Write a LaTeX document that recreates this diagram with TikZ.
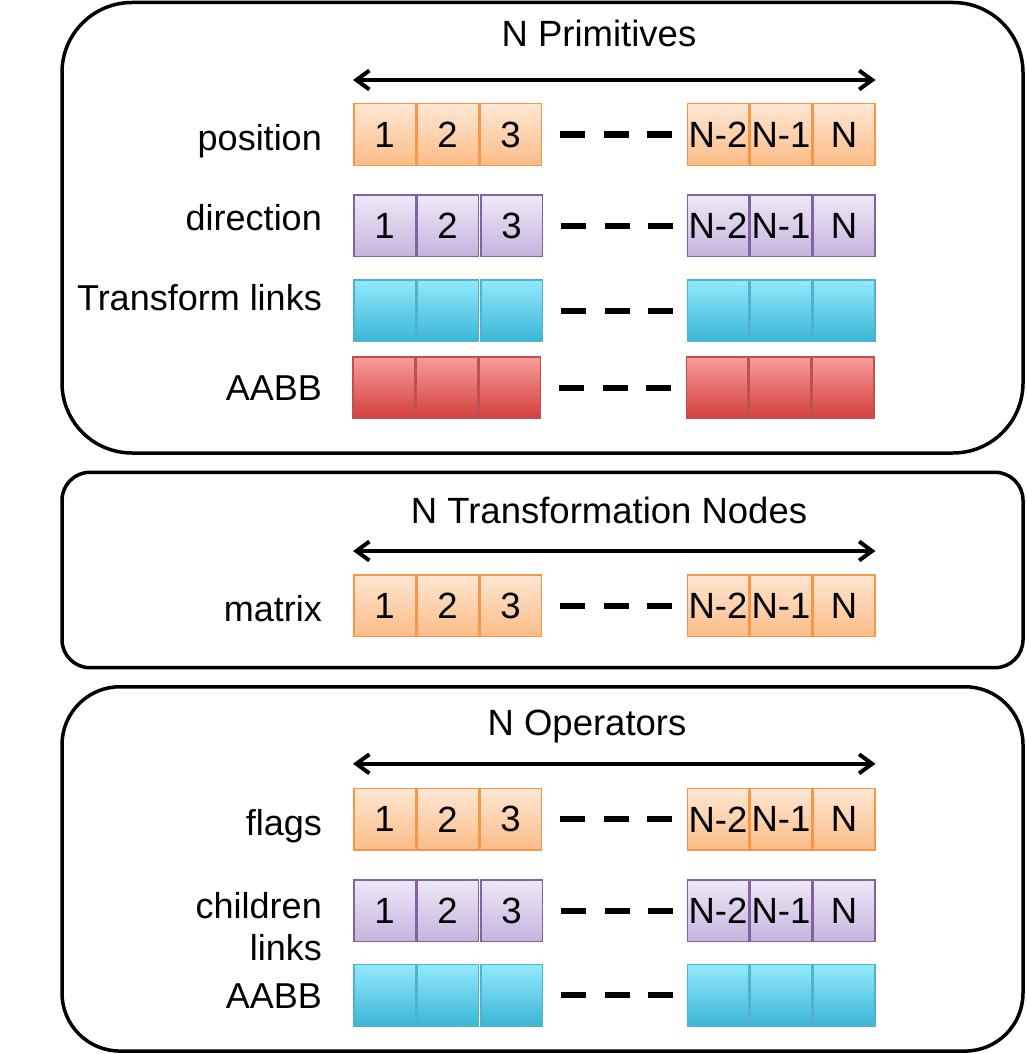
\documentclass[tikz,border=0pt]{standalone}
\usepackage{fontspec}
\setmainfont{Liberation Sans}
\usepackage{tikz}
\usetikzlibrary{arrows.meta}
\usetikzlibrary{positioning,fit,calc}

\definecolor{orangeLine}{HTML}{F79646}
\definecolor{orangeTop}{HTML}{FEE7D4}
\definecolor{orangeBottom}{HTML}{FBBC87}
\definecolor{purpleLine}{HTML}{8064A2}
\definecolor{purpleTop}{HTML}{EEE9F6}
\definecolor{purpleBottom}{HTML}{C7B3DF}
\definecolor{cyanLine}{HTML}{4FB3CF}
\definecolor{cyanTop}{HTML}{93E9FB}
\definecolor{cyanBottom}{HTML}{3AB6D6}
\definecolor{redLine}{HTML}{C0504D}
\definecolor{redTop}{HTML}{F89C9A}
\definecolor{redBottom}{HTML}{D2403E}

\begin{document}
\begin{tikzpicture}[
  x=1pt, y=-1pt,
  node distance=63pt,
  title/.style={font=\fontsize{36.5}{42}\selectfont, anchor=base, inner sep=0pt},
  rowtag/.style={font=\fontsize{36}{41.7}\selectfont, anchor=base east, align=right, inner sep=0pt},
  span/.style={{Straight Barb[length=13pt,width=19pt]}-{Straight Barb[length=13pt,width=19pt]}, line width=4pt},
  gap/.style={line width=6pt, dash pattern=on 25pt off 18.5pt, shorten <=18pt, shorten >=14pt}
]
	\useasboundingbox (0,0) rectangle (1026,1054);
	\tikzstyle{cell} = [rectangle, minimum width=61.5pt, minimum height=61.5pt, inner sep=0pt, line width=1.5pt, text centered, font=\fontsize{36.5}{42}\selectfont]
	\tikzstyle{orangeCell} = [cell, draw=orangeLine, top color=orangeTop, bottom color=orangeBottom]
	\tikzstyle{purpleCell} = [cell, draw=purpleLine, top color=purpleTop, bottom color=purpleBottom]
	\tikzstyle{cyanCell} = [cell, draw=cyanLine, top color=cyanTop, bottom color=cyanBottom]
	\tikzstyle{redCell} = [cell, draw=redLine, top color=redTop, bottom color=redBottom]
	\tikzstyle{groupBox} = [rectangle, line width=3.5pt, draw=black, inner sep=0pt, minimum width=961pt]

	% N primitives
	\node (primBox) [groupBox, rounded corners=70pt, minimum height=450.5pt] at (542.5,227.75) {};
	\node (primTitle) [title] at (599,46.7) {N Primitives};

	\node (pos1) [orangeCell] at (384.5,134.5) {1};
	\node (pos2) [orangeCell, right of=pos1] {2};
	\node (pos3) [orangeCell, right of=pos2] {3};
	\node (posN2) [orangeCell] at (718,134.5) {N-2};
	\node (posN1) [orangeCell, right of=posN2] {N-1};
	\node (posN) [orangeCell, right of=posN1] {N};
	\node (posTag) [rowtag] at (322,150) {position};

	\node (dir1) [purpleCell] at (384.5,225.5) {1};
	\node (dir2) [purpleCell, right of=dir1] {2};
	\node (dir3) [purpleCell, right of=dir2, xshift=1pt] {3};
	\node (dirN2) [purpleCell] at (718,225.5) {N-2};
	\node (dirN1) [purpleCell, right of=dirN2] {N-1};
	\node (dirN) [purpleCell, right of=dirN1] {N};
	\node (dirTag) [rowtag] at (322,230) {direction};

	\node (link1) [cyanCell] at (384.5,310.5) {};
	\node (link2) [cyanCell, right of=link1] {};
	\node (link3) [cyanCell, right of=link2, xshift=1pt] {};
	\node (linkN2) [cyanCell] at (718,310.5) {};
	\node (linkN1) [cyanCell, right of=linkN2] {};
	\node (linkN) [cyanCell, right of=linkN1] {};
	\node (linkTag) [rowtag] at (322,310) {Transform links};

	\node (bbox1) [redCell] at (383.5,387.5) {};
	\node (bbox2) [redCell, right of=bbox1] {};
	\node (bbox3) [redCell, right of=bbox2] {};
	\node (bboxN2) [redCell] at (717,387.5) {};
	\node (bboxN1) [redCell, right of=bboxN2] {};
	\node (bboxN) [redCell, right of=bboxN1] {};
	\node (bboxTag) [rowtag] at (322,400) {AABB};

	\draw[span] ([yshift=23pt]pos1.north west) -- ([yshift=23pt]posN.north east);
	\draw[gap] (pos3) -- (posN2);
	\draw[gap] (dir3) -- (dirN2);
	\draw[gap] (link3) -- (linkN2);
	\draw[gap] (bbox3) -- (bboxN2);

	% N transformation nodes
	\node (transBox) [groupBox, rounded corners=28pt, minimum height=195.4pt] at (542.5,570) {};
	\node (transTitle) [title] at (609,523) {N Transformation Nodes};

	\node (mat1) [orangeCell] at (384.5,605.5) {1};
	\node (mat2) [orangeCell, right of=mat1] {2};
	\node (mat3) [orangeCell, right of=mat2] {3};
	\node (matN2) [orangeCell] at (718,605.5) {N-2};
	\node (matN1) [orangeCell, right of=matN2] {N-1};
	\node (matN) [orangeCell, right of=matN1] {N};
	\node (matTag) [rowtag] at (322,621.7) {matrix};

	\draw[span] ([yshift=23pt]mat1.north west) -- ([yshift=23pt]matN.north east);
	\draw[gap] (mat3) -- (matN2);

	% N operators
	\node (opBox) [groupBox, rounded corners=58pt, minimum height=364.3pt] at (542.5,868.9) {};
	\node (opTitle) [title] at (587,735) {N Operators};

	\node (flag1) [orangeCell] at (384.5,819.3) {1};
	\node (flag2) [orangeCell, right of=flag1] {2};
	\node (flag3) [orangeCell, right of=flag2] {3};
	\node (flagN2) [orangeCell] at (718,819.3) {N-2};
	\node (flagN1) [orangeCell, right of=flagN2] {N-1};
	\node (flagN) [orangeCell, right of=flagN1] {N};
	\node (flagTag) [rowtag] at (322,835.7) {flags};

	\node (child1) [purpleCell] at (384.5,910.5) {1};
	\node (child2) [purpleCell, right of=child1] {2};
	\node (child3) [purpleCell, right of=child2, xshift=1pt] {3};
	\node (childN2) [purpleCell] at (718,910.5) {N-2};
	\node (childN1) [purpleCell, right of=childN2] {N-1};
	\node (childN) [purpleCell, right of=childN1] {N};
	\node (childTag) [rowtag] at (322,960) {children\\links};

	\node (opbb1) [cyanCell] at (384.5,995.3) {};
	\node (opbb2) [cyanCell, right of=opbb1] {};
	\node (opbb3) [cyanCell, right of=opbb2, xshift=1pt] {};
	\node (opbbN2) [cyanCell] at (718,995.3) {};
	\node (opbbN1) [cyanCell, right of=opbbN2] {};
	\node (opbbN) [cyanCell, right of=opbbN1] {};
	\node (opbbTag) [rowtag] at (322,1008.3) {AABB};

	\draw[span] ([yshift=24pt]flag1.north west) -- ([yshift=24pt]flagN.north east);
	\draw[gap] (flag3) -- (flagN2);
	\draw[gap] (child3) -- (childN2);
	\draw[gap] (opbb3) -- (opbbN2);

\end{tikzpicture}
\end{document}
